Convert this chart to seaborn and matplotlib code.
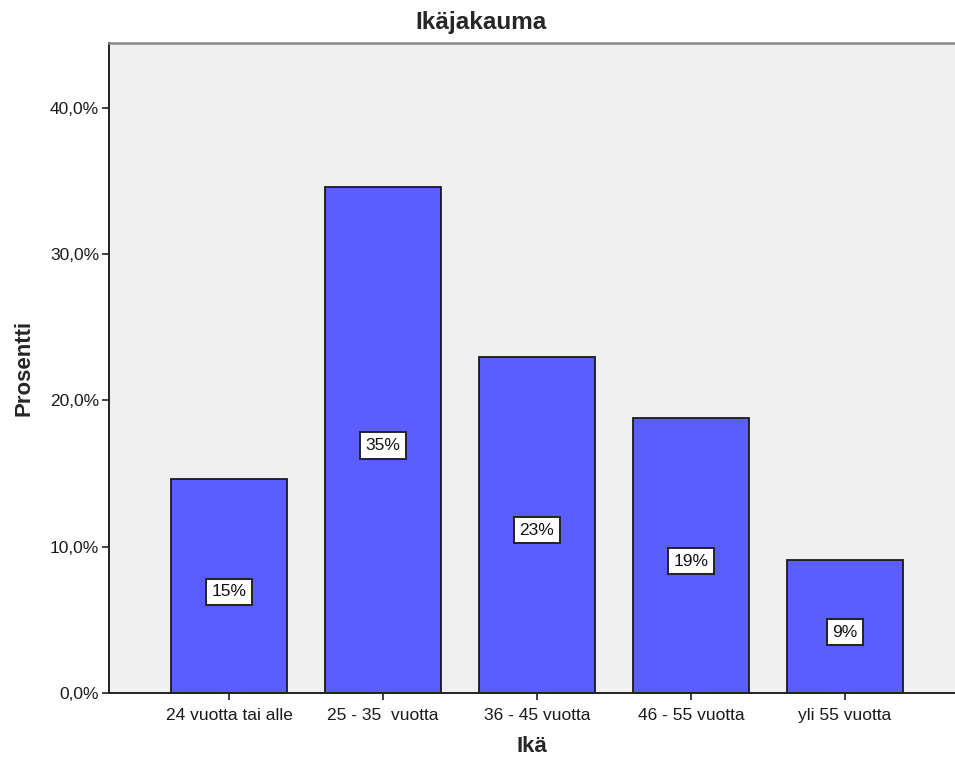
import matplotlib
matplotlib.use("Agg")
import matplotlib.pyplot as plt
import seaborn as sns
import pandas as pd

# Age distribution of respondents (percent of total)
categories = ["24 vuotta tai alle", "25 - 35  vuotta", "36 - 45 vuotta",
              "46 - 55 vuotta", "yli 55 vuotta"]
percents = [14.6, 34.6, 23.0, 18.8, 9.1]
yticks = [0, 10, 20, 30, 40]
ytick_labels = ["0,0%", "10,0%", "20,0%", "30,0%", "40,0%"]

df = pd.DataFrame({"Ikä": categories, "Prosentti": percents})

sns.set_theme(style="white")
plt.rcParams["font.family"] = ["Liberation Sans", "DejaVu Sans"]

fig = plt.figure(figsize=(9.55, 7.64), dpi=100)
ax = fig.add_axes([0.1141, 0.0929, 0.8859, 0.8508])
ax.set_facecolor("#F0F0F0")

sns.barplot(data=df, x="Ikä", y="Prosentti", color="#5A5EFF", saturation=1,
            width=0.753, edgecolor="#1a1a1a", linewidth=1.3, ax=ax, zorder=2)

# value labels in white boxes at the middle of each bar
for i, v in enumerate(df["Prosentti"]):
    ax.annotate(f"{v:.0f}%", xy=(i, v / 2), xytext=(0, -4),
                textcoords="offset points", ha="center", va="center",
                fontsize=12.5, color="#111111", zorder=3,
                bbox=dict(boxstyle="square,pad=0.32", facecolor="white",
                          edgecolor="#222222", linewidth=1.4))

ax.set_xlim(-0.779, 4.714)
ax.set_ylim(0, 44.44)
ax.set_yticks(yticks)
ax.set_yticklabels(ytick_labels)

ax.tick_params(axis="both", which="major", direction="out", length=5,
               width=1.2, color="#222222", labelsize=12.5, labelcolor="#1a1a1a",
               bottom=True, left=True)
ax.tick_params(axis="x", pad=6)
ax.tick_params(axis="y", pad=2)

for side in ["left", "bottom"]:
    ax.spines[side].set_color("#222222")
    ax.spines[side].set_linewidth(1.4)
ax.spines["top"].set_color("#888888")
ax.spines["top"].set_linewidth(1.8)
ax.spines["right"].set_visible(False)

ax.set_title("Ikäjakauma", fontsize=17.5, fontweight="bold", pad=10, x=0.44)
ax.set_xlabel("Ikä", fontsize=16, fontweight="bold", labelpad=9)
ax.set_ylabel("Prosentti", fontsize=16, fontweight="bold", labelpad=11)

fig.savefig("out.png", dpi=100, facecolor="white")
